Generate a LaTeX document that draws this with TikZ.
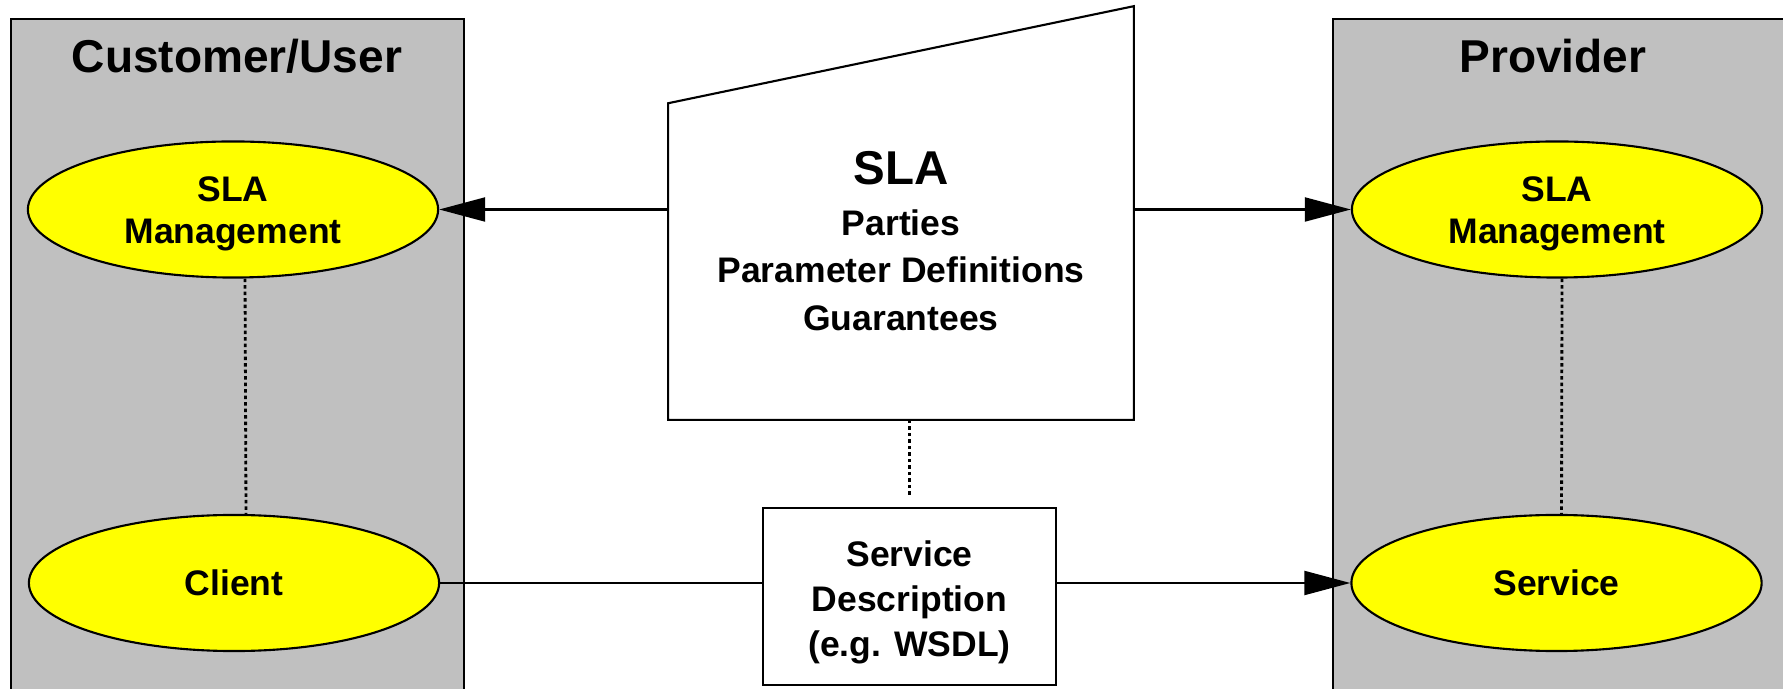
\documentclass[tikz,border=0pt]{standalone}
\usepackage{fontspec}
\setmainfont{Liberation Sans}
\usetikzlibrary{arrows.meta,shapes.geometric}
\definecolor{panelgray}{RGB}{192,192,192}
\definecolor{roleyellow}{RGB}{255,255,0}
\begin{document}
\begin{tikzpicture}[x=0.01cm, y=-0.01cm,
  outline/.style={draw=black, line width=0.6pt},
  role/.style={ellipse, draw=black, line width=0.6pt, fill=roleyellow,
    minimum width=4.1cm, minimum height=1.36cm, inner sep=0pt, align=center,
    font=\bfseries\fontsize{10.1}{11.8}\selectfont},
  heading/.style={anchor=base, font=\bfseries\fontsize{13.1}{15}\selectfont},
  docbox/.style={draw=black, line width=0.6pt, fill=white, inner sep=0pt,
    align=center, font=\bfseries\fontsize{10.1}{12.8}\selectfont},
  arr/.style={line width=0.6pt, -{Triangle[length=4.6mm, width=2.4mm]}},
  link/.style={line width=0.6pt},
  dotline/.style={line width=0.8pt, dash pattern=on 1pt off 0.85pt},
]
\useasboundingbox (0,0) rectangle (1783,689);

% the two parties, open at the page edges
\fill[panelgray] (11,19) rectangle (464,689);
\draw[outline] (11,689) -- (11,19) -- (464,19) -- (464,689);
\fill[panelgray] (1333,19) rectangle (1783,689);
\draw[outline] (1333,689) -- (1333,19) -- (1783,19);

\node[heading] (custtitle) at (237,73) {Customer/User};
\node[heading] (provtitle) at (1553,73) {Provider};

% roles on each side (the strut on a first line sets the text a little lower)
\node[role] (cslam) at (233,209.5) {\rule{0pt}{0.335cm}SLA\\Management};
\node[role] (client) at (234,583) {Client};
\node[role] (pslam) at (1557,209.5) {\rule{0pt}{0.335cm}SLA\\Management};
\node[role] (service) at (1556.5,583) {Service};

% the agreement document with its slanted top edge
\node[minimum width=4.64cm, minimum height=4.12cm, inner sep=0pt] (sla) at (901,213) {};
\draw[outline, fill=white] (sla.south west) -- (sla.south east) -- (sla.north east)
  -- ([yshift=-0.97cm]sla.north west) -- cycle;
\node[anchor=base, font=\bfseries\fontsize{13.5}{16}\selectfont] (slaname) at (901,185) {SLA};
\node[align=center, inner sep=0pt, font=\bfseries\fontsize{10.1}{13.5}\selectfont]
  (slaterms) at (901,270) {Parties\\Parameter Definitions\\Guarantees};

% service description
\node[docbox, minimum width=2.93cm, minimum height=1.77cm] (sd) at (909.5,596.5)
  {\rule{0pt}{0.38cm}Service\\Description\\(e.g. WSDL)};

% connectors
\draw[arr] (sla.west |- cslam.east) -- (cslam.east);
\draw[arr] (sla.east |- pslam.west) -- (pslam.west);
\draw[link] (client.east) -- (sd.west |- client.east);
\draw[arr] (sd.east |- service.west) -- (service.west);

\draw[dotline] ([xshift=0.12cm]cslam.south) -- ([xshift=0.12cm]client.north);
\draw[dotline] ([xshift=0.05cm]pslam.south) -- ([xshift=0.05cm]service.north);
\draw[dotline, shorten >=0.1cm] (sla.south -| sd.north) -- (sd.north);
\end{tikzpicture}
\end{document}
